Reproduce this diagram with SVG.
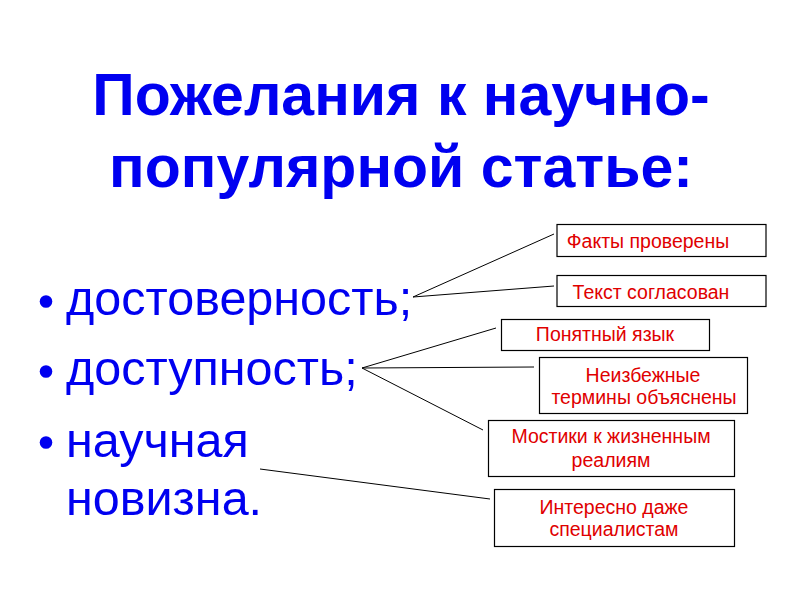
<svg xmlns="http://www.w3.org/2000/svg" width="800" height="600" viewBox="0 0 800 600">
<style>
.title{font-family:"Liberation Sans",Arial,sans-serif;font-weight:bold;font-size:59px;fill:#0000f0;text-anchor:middle}
.bul{font-family:"Liberation Sans",Arial,sans-serif;font-size:48.5px;fill:#0000f0}
.dot{fill:#0000f0}
.box{fill:#fff;stroke:#000;stroke-width:1.2}
.lbl{font-family:"Liberation Sans",Arial,sans-serif;font-size:19.5px;fill:#e00000;text-anchor:middle}
.con line{stroke:#000;stroke-width:1}
</style>
<rect width="800" height="600" fill="#fff"/>
<g id="title">
<text class="title" x="401" y="115">Пожелания к научно-</text>
<text class="title" x="401" y="187">популярной статье:</text>
</g>
<g id="bullets">
<circle class="dot" cx="46" cy="301.5" r="6.3"/>
<text class="bul" x="66" y="315">достоверность;</text>
<circle class="dot" cx="46" cy="371.5" r="6.3"/>
<text class="bul" x="66" y="385">доступность;</text>
<circle class="dot" cx="46" cy="442.5" r="6.3"/>
<text class="bul" x="66" y="457">научная</text>
<text class="bul" x="66" y="515">новизна.</text>
</g>
<g id="connectors" class="con">
<line x1="413" y1="297" x2="554" y2="234"/>
<line x1="413" y1="297" x2="554" y2="286"/>
<line x1="362" y1="368" x2="496" y2="328"/>
<line x1="362" y1="368" x2="534" y2="367"/>
<line x1="362" y1="368" x2="483" y2="430"/>
<line x1="260" y1="469" x2="490" y2="499"/>
</g>
<g id="n1"><rect class="box" x="557" y="224.5" width="209" height="32"/><text class="lbl" x="648" y="248">Факты проверены</text></g>
<g id="n2"><rect class="box" x="557" y="275.5" width="209" height="31"/><text class="lbl" x="651" y="299">Текст согласован</text></g>
<g id="n3"><rect class="box" x="501.5" y="319.5" width="208" height="31"/><text class="lbl" x="605" y="341">Понятный язык</text></g>
<g id="n4"><rect class="box" x="539.5" y="357.5" width="208" height="56"/><text class="lbl" x="643" y="382">Неизбежные</text><text class="lbl" x="644" y="404">термины объяснены</text></g>
<g id="n5"><rect class="box" x="488.5" y="420.5" width="246" height="56"/><text class="lbl" x="611" y="443">Мостики к жизненным</text><text class="lbl" x="611" y="467">реалиям</text></g>
<g id="n6"><rect class="box" x="494.5" y="489.5" width="240" height="57"/><text class="lbl" x="614" y="514">Интересно даже</text><text class="lbl" x="614" y="536">специалистам</text></g>
</svg>
